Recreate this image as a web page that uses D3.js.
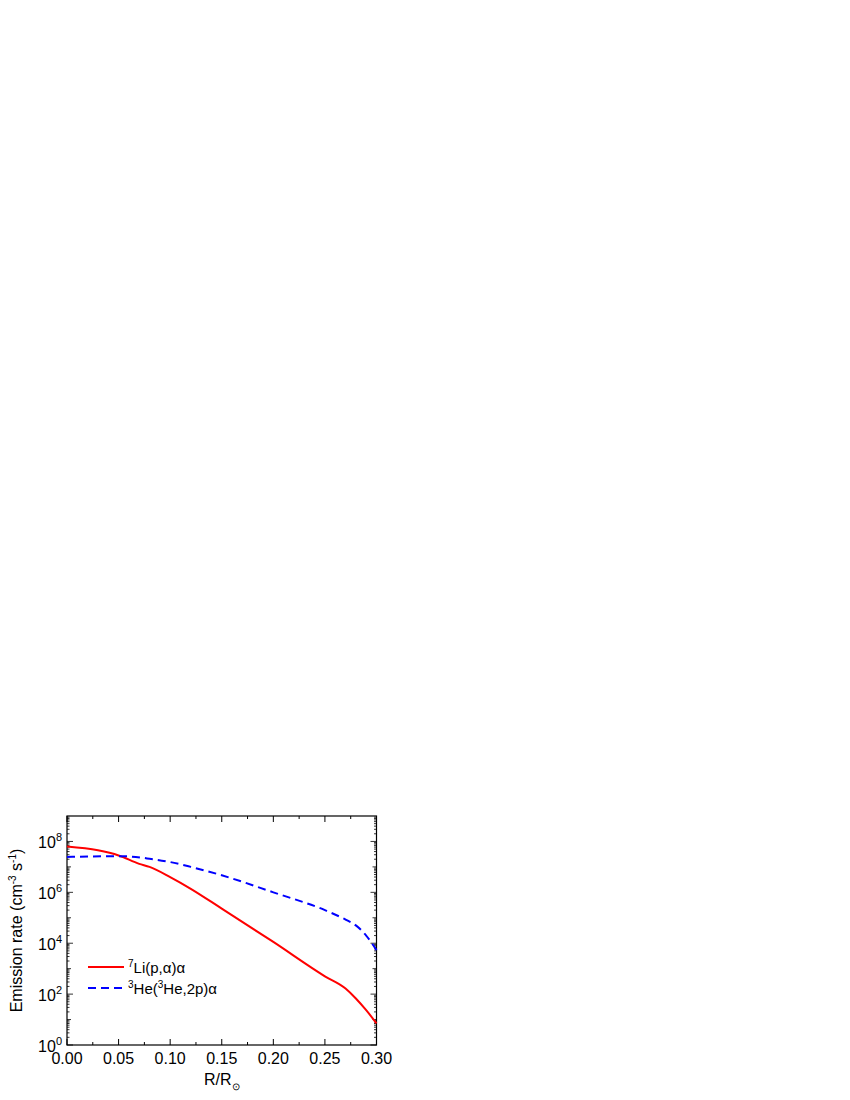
<!DOCTYPE html>
<html><head><meta charset="utf-8">
<script src="https://cdn.jsdelivr.net/npm/d3@7"></script>
<style>body{margin:0;background:#fff}text{font-family:"Liberation Sans",Arial,sans-serif}</style>
</head><body><svg id="c" width="850" height="1100"></svg>
<script>
const rValues=[0,0.03,0.05,0.07,0.08,0.10,0.12,0.15,0.20,0.25,0.27,0.28,0.29,0.30];
const liLog=[7.8,7.65,7.45,7.12,7.0,6.6,6.14,5.36,4.05,2.7,2.22,1.83,1.37,0.85];
const heR=[0,0.05,0.06,0.08,0.10,0.12,0.15,0.20,0.25,0.27,0.28,0.29,0.30];
const heLog=[7.39,7.42,7.41,7.32,7.19,7.0,6.67,6.0,5.3,4.93,4.7,4.3,3.73];
const xTicks=[0,0.05,0.10,0.15,0.20,0.25,0.30];
const yTickExp=[0,2,4,6,8];
const svg=d3.select("#c");
const L=67,R=376.5,T=816,B=1045;
const x=d3.scaleLinear().domain([0,0.3]).range([L,R]);
const y=d3.scaleLog().domain([1,1e9]).range([B,T]);
const g=svg.append("g");
g.append("rect").attr("x",L).attr("y",T).attr("width",R-L).attr("height",B-T).attr("fill","none").attr("stroke","#000").attr("stroke-width",1.2);
// ticks
const xMinor=d3.range(0,0.3001,0.025);
xMinor.forEach((v,i)=>{const len=i%2==0?6:3;
 g.append("line").attr("x1",x(v)).attr("x2",x(v)).attr("y1",B).attr("y2",B-len).attr("stroke","#000");
 g.append("line").attr("x1",x(v)).attr("x2",x(v)).attr("y1",T).attr("y2",T+len).attr("stroke","#000");});
for(let e=0;e<9;e++){for(let k=1;k<10;k++){const v=k*Math.pow(10,e);const len=k==1?(e%2==0?6:4):2.5;
 g.append("line").attr("x1",L).attr("x2",L+len).attr("y1",y(v)).attr("y2",y(v)).attr("stroke","#000").attr("stroke-width",0.8);
 g.append("line").attr("x1",R).attr("x2",R-len).attr("y1",y(v)).attr("y2",y(v)).attr("stroke","#000").attr("stroke-width",0.8);}}
xTicks.forEach(v=>g.append("text").attr("x",x(v)).attr("y",B+19).attr("text-anchor","middle").attr("font-size",16).text(v.toFixed(2)));
yTickExp.forEach(e=>{const t=g.append("text").attr("x",L-5).attr("y",y(Math.pow(10,e))+7).attr("text-anchor","end").attr("font-size",16);
 t.append("tspan").text("10");t.append("tspan").attr("dy",-7).attr("font-size",11).text(e);});
// labels
const xl=g.append("text").attr("x",(L+R)/2).attr("y",1085).attr("text-anchor","middle").attr("font-size",16);
xl.append("tspan").text("R/R");xl.append("tspan").attr("dy",5).attr("font-size",10).text("⊙");
const yl=g.append("text").attr("transform",`translate(22,${(T+B)/2}) rotate(-90)`).attr("text-anchor","middle").attr("font-size",16);
yl.append("tspan").text("Emission rate (cm");yl.append("tspan").attr("dy",-6).attr("font-size",10).text("-3");
yl.append("tspan").attr("dy",6).text(" s");yl.append("tspan").attr("dy",-6).attr("font-size",10).text("-1");
yl.append("tspan").attr("dy",6).text(")");
const line=d3.line().curve(d3.curveMonotoneX);
g.append("path").attr("d",line(rValues.map((r,i)=>[x(r),y(Math.pow(10,liLog[i]))]))).attr("fill","none").attr("stroke","#ff0000").attr("stroke-width",2);
g.append("path").attr("d",line(heR.map((r,i)=>[x(r),y(Math.pow(10,heLog[i]))]))).attr("fill","none").attr("stroke","#0000ff").attr("stroke-width",2).attr("stroke-dasharray","8,5");
// legend
g.append("line").attr("x1",88).attr("x2",124).attr("y1",967).attr("y2",967).attr("stroke","#ff0000").attr("stroke-width",2);
g.append("line").attr("x1",88).attr("x2",124).attr("y1",988).attr("y2",988).attr("stroke","#0000ff").attr("stroke-width",2).attr("stroke-dasharray","8,5");
const l1=g.append("text").attr("x",128).attr("y",973).attr("font-size",15);
l1.append("tspan").attr("dy",-6).attr("font-size",10).text("7");l1.append("tspan").attr("dy",6).text("Li(p,α)α");
const l2=g.append("text").attr("x",128).attr("y",994).attr("font-size",15);
l2.append("tspan").attr("dy",-6).attr("font-size",10).text("3");l2.append("tspan").attr("dy",6).text("He(");
l2.append("tspan").attr("dy",-6).attr("font-size",10).text("3");l2.append("tspan").attr("dy",6).text("He,2p)α");
</script></body></html>
